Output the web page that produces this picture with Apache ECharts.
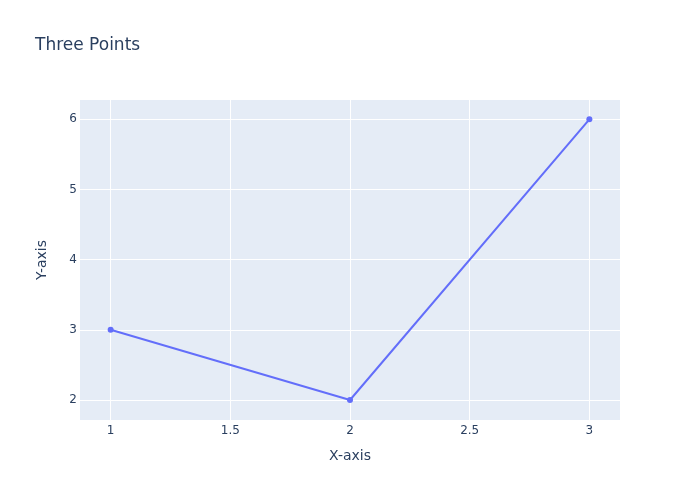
<!DOCTYPE html>
<html>
<head>
<meta charset="utf-8">
<script src="https://cdn.jsdelivr.net/npm/echarts@6/dist/echarts.min.js"></script>
<style>
  html, body { margin: 0; padding: 0; background: #fff; }
  #chart { width: 700px; height: 500px; }
</style>
</head>
<body>
<div id="chart"></div>
<script>
const xValues = [1, 2, 3]
const yValues = [3, 2, 6]
const xTicks = [1, 1.5, 2, 2.5, 3]
const yTicks = [2, 3, 4, 5, 6]

const font = 'DejaVu Sans, Verdana, sans-serif'
const textColor = '#2a3f5f'

const chart = echarts.init(document.getElementById('chart'))
chart.setOption({
  animation: false,
  title: {
    text: 'Three Points',
    left: 30,
    top: 32,
    textStyle: { fontFamily: font, fontSize: 17, fontWeight: 'normal', color: textColor }
  },
  grid: {
    left: 80, right: 80, top: 100, bottom: 80,
    show: true, backgroundColor: '#E5ECF6', borderWidth: 0
  },
  xAxis: {
    type: 'value',
    min: 0.872, max: 3.128,
    name: 'X-axis',
    nameLocation: 'middle',
    nameGap: 29,
    nameTextStyle: { fontFamily: font, fontSize: 14, color: textColor },
    axisLine: { show: false },
    axisTick: { show: false, customValues: xTicks },
    axisLabel: {
      customValues: xTicks,
      margin: 5,
      fontFamily: font, fontSize: 12, color: textColor
    },
    splitLine: { show: true, lineStyle: { color: '#fff', width: 1 } }
  },
  yAxis: {
    type: 'value',
    min: 1.715, max: 6.275,
    name: 'Y-axis',
    nameLocation: 'middle',
    nameGap: 31,
    nameTextStyle: { fontFamily: font, fontSize: 14, color: textColor },
    axisLine: { show: false },
    axisTick: { show: false, customValues: yTicks },
    axisLabel: {
      customValues: yTicks,
      margin: 3,
      fontFamily: font, fontSize: 12, color: textColor
    },
    splitLine: { show: true, lineStyle: { color: '#fff', width: 1 } }
  },
  series: [{
    type: 'line',
    data: xValues.map((x, i) => [x, yValues[i]]),
    symbol: 'circle',
    symbolSize: 6,
    lineStyle: { color: '#636efa', width: 2 },
    itemStyle: { color: '#636efa' }
  }]
})
</script>
</body>
</html>
